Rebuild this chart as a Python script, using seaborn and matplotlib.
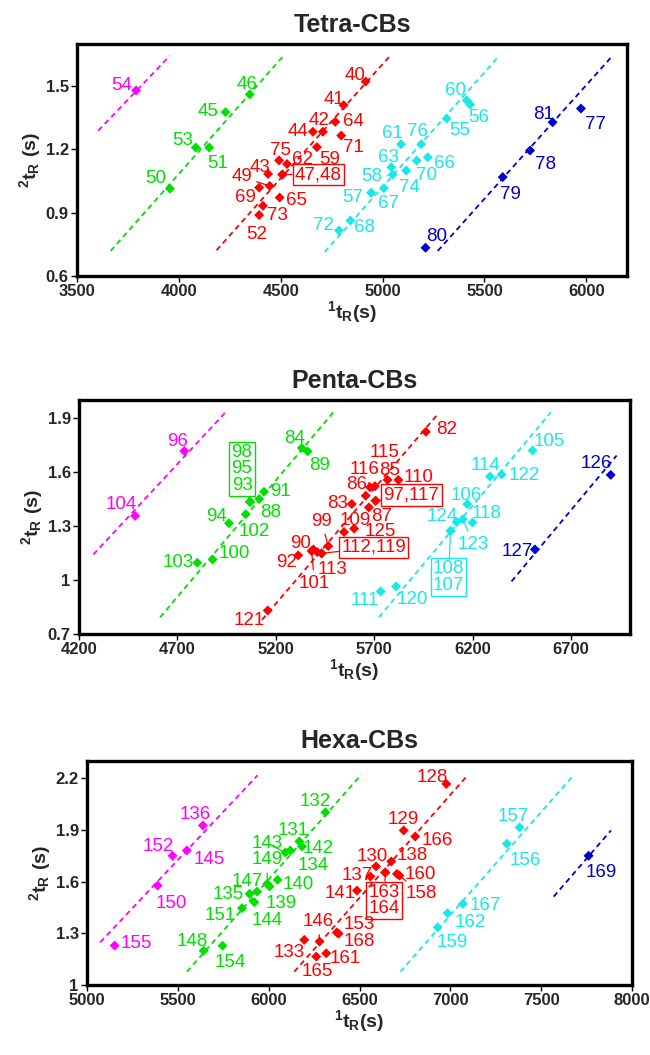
import numpy as np
import pandas as pd
import matplotlib
matplotlib.use("Agg")
import matplotlib.pyplot as plt
from matplotlib.ticker import FuncFormatter
import seaborn as sns

# ---------------- DATA ----------------
# Tetra-CBs
tetra_ids = ['54', '46', '45', '53', '51', '50',
             '40', '41', '42', '64', '44', '71', '59', '75', '62', '47', '48', '43', '49', '69', '65', '73', '52',
             '60', '56', '55', '76', '61', '66', '70', '63', '74', '58', '67', '57', '68', '72',
             '81', '77', '78', '79', '80']
tetra_x = [3790, 4348, 4229, 4083, 4149, 3956,
           4917, 4809, 4707, 4768, 4658, 4797, 4678, 4492, 4531, 4508, 4508, 4438, 4446, 4394, 4495, 4413, 4394,
           5413, 5430, 5315, 5190, 5091, 5222, 5168, 5043, 5116, 5050, 5006, 4944, 4842, 4786,
           5835, 5974, 5724, 5590, 5211]
tetra_y = [1.48, 1.461, 1.377, 1.209, 1.209, 1.014,
           1.522, 1.41, 1.284, 1.331, 1.284, 1.266, 1.211, 1.148, 1.131, 1.081, 1.081, 1.084, 1.027, 1.019, 0.972, 0.933, 0.889,
           1.433, 1.413, 1.347, 1.225, 1.225, 1.163, 1.147, 1.116, 1.100, 1.081, 1.016, 0.995, 0.863, 0.816,
           1.329, 1.394, 1.195, 1.069, 0.734]
tetra_grp = ['m'] * 1 + ['g'] * 5 + ['r'] * 17 + ['c'] * 14 + ['b'] * 5
tetra_fit_grp = ['m', 'g', 'r', 'c', 'b']
tetra_fit_x = [[3604, 3956], [3665, 4511], [4185, 5034], [4716, 5570], [5271, 6126]]
tetra_fit_y = [[1.289, 1.644], [0.719, 1.641], [0.722, 1.641], [0.714, 1.641], [0.719, 1.641]]

# Penta-CBs
penta_ids = ['96', '104',
             '84', '89', '91', '88', '98', '95', '93', '102', '94', '100', '103',
             '82', '85', '110', '116', '115', '86', '97', '117', '83', '87', '109', '125', '99', '112', '119',
             '90', '113', '101', '92', '121',
             '105', '114', '122', '106', '118', '124', '123', '108', '107', '111', '120',
             '126', '127']
penta_x = [4735, 4485,
           5332, 5362, 5140, 5116, 5069, 5069, 5069, 5047, 4962, 4879, 4801,
           5963, 5768, 5823, 5679, 5704, 5657, 5707, 5707, 5586, 5673, 5547, 5598, 5467, 5433, 5433,
           5391, 5411, 5382, 5314, 5159,
           6505, 6288, 6347, 6173, 6200, 6119, 6150, 6088, 6088, 5733, 5811,
           6902, 6517]
penta_y = [1.716, 1.355,
           1.733, 1.714, 1.489, 1.449, 1.433, 1.433, 1.433, 1.364, 1.314, 1.112, 1.094,
           1.823, 1.555, 1.555, 1.514, 1.52, 1.467, 1.439, 1.439, 1.421, 1.402, 1.265, 1.284, 1.187, 1.146, 1.146,
           1.168, 1.153, 1.159, 1.135, 0.828,
           1.719, 1.574, 1.585, 1.420, 1.318, 1.321, 1.336, 1.271, 1.271, 0.934, 0.962,
           1.583, 1.168]
penta_grp = ['m'] * 2 + ['g'] * 11 + ['r'] * 20 + ['c'] * 11 + ['b'] * 2
penta_fit_grp = ['m', 'g', 'r', 'c', 'b']
penta_fit_x = [[4273, 4955], [4612, 5492], [5130, 6026], [5724, 6597], [6398, 6932]]
penta_fit_y = [[1.140, 1.944], [0.79, 1.931], [0.776, 1.925], [0.79, 1.931], [0.99, 1.691]]

# Hexa-CBs
hexa_ids = ['136', '152', '145', '150', '155',
            '132', '131', '142', '143', '134', '149', '140', '139', '147', '135', '144', '151', '148', '154',
            '128', '129', '166', '138', '130', '137', '163', '164', '160', '158', '141', '153', '168', '146',
            '133', '165', '161',
            '157', '156', '167', '162', '159',
            '169']
hexa_x = [5638, 5471, 5550, 5389, 5152,
          6312, 6169, 6183, 6092, 6119, 5992, 6049, 6005, 5936, 5895, 5921, 5853, 5642, 5746,
          6978, 6743, 6807, 6675, 6591, 6560, 6642, 6642, 6706, 6720, 6486, 6375, 6385, 6280,
          6196, 6262, 6317,
          7381, 7311, 7069, 6985, 6930,
          7761]
hexa_y = [1.926, 1.75, 1.781, 1.577, 1.229,
          2.002, 1.833, 1.804, 1.769, 1.781, 1.587, 1.610, 1.572, 1.542, 1.529, 1.481, 1.446, 1.199, 1.228,
          2.167, 1.897, 1.862, 1.717, 1.688, 1.630, 1.653, 1.653, 1.645, 1.635, 1.548, 1.305, 1.298, 1.252,
          1.262, 1.165, 1.184,
          1.915, 1.82, 1.471, 1.417, 1.335,
          1.75]
hexa_grp = ['m'] * 5 + ['g'] * 14 + ['r'] * 17 + ['c'] * 5 + ['b'] * 1
hexa_fit_grp = ['m', 'g', 'r', 'c', 'b']
hexa_fit_x = [[5073, 5939], [5550, 6510], [6141, 7095], [6725, 7678], [7569, 7884]]
hexa_fit_y = [[1.248, 2.217], [1.077, 2.221], [1.077, 2.217], [1.077, 2.217], [1.513, 1.897]]

titles = ['Tetra-CBs', 'Penta-CBs', 'Hexa-CBs']
x_ticks = [[3500, 4000, 4500, 5000, 5500, 6000],
           [4200, 4700, 5200, 5700, 6200, 6700],
           [5000, 5500, 6000, 6500, 7000, 7500, 8000]]
y_ticks = [[0.6, 0.9, 1.2, 1.5],
           [0.7, 1.0, 1.3, 1.6, 1.9],
           [1.0, 1.3, 1.6, 1.9, 2.2]]

# ---------------- STYLE / LAYOUT ----------------
sns.set_theme(style="white")
FAM = ['Liberation Sans', 'DejaVu Sans']
plt.rcParams['font.family'] = FAM
plt.rcParams['mathtext.fontset'] = 'custom'
plt.rcParams['mathtext.rm'] = 'Liberation Sans:bold'
plt.rcParams['mathtext.it'] = 'Liberation Sans:bold'
plt.rcParams['mathtext.bf'] = 'Liberation Sans:bold'
plt.rcParams['mathtext.default'] = 'rm'

palette = {'m': '#FF00FF', 'g': '#00E000', 'r': '#FF0000', 'c': '#19E8E8', 'b': '#0000CC'}

xlims = [(3500, 6200), (4200, 7000), (5000, 8000)]
ylims = [(0.6, 1.7), (0.7, 2.0), (1.0, 2.3)]
W, H = 650, 1055
# axes boxes in pixels: left, top, right, bottom
boxes = [(77, 44, 627, 276), (79, 400, 630, 633.5), (87, 761, 632, 985)]

# label offsets in pixels (dx right, dy down)
off_tetra = {'54': (-14, -7), '46': (-3, -12), '45': (-17, -3), '53': (-13, -9), '51': (8, 14), '50': (-14, -12),
             '40': (-11, -8), '41': (-10, -8), '42': (-4, -13), '64': (18, -2), '44': (-15, -2), '71': (12, 10),
             '59': (13, 10), '75': (1, -12), '62': (15, -7), '43': (-8, -8), '49': (-28, -11), '69': (-14, 8),
             '65': (17, 1), '73': (14, 8), '52': (-2, 17),
             '60': (-11, -12), '56': (9, 11), '55': (13, 10), '76': (-4, -15), '61': (-9, -13), '63': (-3, -12),
             '66': (17, 4), '70': (10, 13), '74': (3, 15), '58': (-21, 0), '67': (5, 13), '57': (-18, 3),
             '68': (14, 5), '72': (-15, -7),
             '81': (-9, -10), '77': (15, 14), '78': (15, 12), '79': (8, 15), '80': (11, -13)}
conn_tetra = {'49', '58'}
box_tetra = [('47', '47,48', (36, 0))]

off_penta = {'96': (-7, -12), '104': (-14, -13), '84': (-7, -11), '89': (12, 12), '91': (17, -2), '88': (11, 12),
             '102': (9, 15), '94': (-12, -9), '100': (22, -8), '103': (-19, -2),
             '82': (21, -4), '115': (10, -36), '116': (-5, -20), '85': (2, -11), '110': (20, -4), '86': (-9, -13),
             '83': (-14, -2), '87': (13, 7), '109': (11, -14), '125': (26, 1), '99': (-7, -27), '90': (-13, -8),
             '113': (15, 15), '101': (3, 30), '92': (-12, 5), '121': (-18, 8),
             '105': (17, -11), '114': (-4, -13), '122': (23, -1), '106': (-1, -11), '118': (14, -11),
             '124': (-14, -7), '123': (11, 23), '111': (-16, 7), '120': (16, 11),
             '126': (-14, -13), '127': (-18, 0)}
conn_penta = {'116', '99', '101', '123'}
box_penta = [('98', '98\n95\n93', (-8, -33)), ('97', '97,117', (36, -6)),
             ('112', '112,119', (52, -6)), ('108', '108\n107', (-2, 46))]

off_hexa = {'136': (-8, -13), '152': (-14, -11), '145': (22, 7), '150': (14, 16), '155': (22, -4),
            '132': (-10, -13), '131': (-6, -13), '142': (16, 0), '143': (-18, -11), '134': (23, 13),
            '149': (0, -26), '140': (21, 3), '139': (12, 15), '147': (-10, -12), '135': (-21, -1),
            '144': (13, 16), '151': (-22, 5), '148': (-11, -11), '154': (8, 15),
            '128': (-14, -8), '129': (0, -13), '166': (22, 2), '138': (21, -8), '130': (-4, -12),
            '137': (-13, -3), '160': (23, -1), '158': (22, 16), '141': (-17, 1), '153': (22, -10),
            '168': (21, 6), '146': (-1, -22), '133': (-15, 11), '165': (1, 13), '161': (19, 3),
            '157': (-6, -13), '156': (18, 15), '167': (22, 0), '162': (23, 7), '159': (15, 13),
            '169': (13, 15)}
conn_hexa = {'143', '134', '149', '158', '146'}
box_hexa = [('163', '163\n164', (-1, 28))]

panels = [
    (tetra_ids, tetra_x, tetra_y, tetra_grp, tetra_fit_grp, tetra_fit_x, tetra_fit_y, off_tetra, conn_tetra, box_tetra),
    (penta_ids, penta_x, penta_y, penta_grp, penta_fit_grp, penta_fit_x, penta_fit_y, off_penta, conn_penta, box_penta),
    (hexa_ids, hexa_x, hexa_y, hexa_grp, hexa_fit_grp, hexa_fit_x, hexa_fit_y, off_hexa, conn_hexa, box_hexa),
]

PX = 0.72  # points per pixel at dpi 100
LBL_FS = 13.5

fig = plt.figure(figsize=(W / 100, H / 100), dpi=100)

for i, (ids, xs, ys, grp, fgrp, fx, fy, offs, conns, boxl) in enumerate(panels):
    l, t, r, b = boxes[i]
    ax = fig.add_axes([l / W, 1 - b / H, (r - l) / W, (b - t) / H])
    df = pd.DataFrame({'id': ids, 'x': xs, 'y': ys, 'grp': grp})
    fit_rows = []
    for g, xx, yy in zip(fgrp, fx, fy):
        for a, bb in zip(xx, yy):
            fit_rows.append({'grp': g, 'x': a, 'y': bb})
    fit_df = pd.DataFrame(fit_rows)
    sns.lineplot(data=fit_df, x='x', y='y', hue='grp', units='grp', estimator=None, sort=False,
                 palette=palette, legend=False, ax=ax, lw=1.3, linestyle=(0, (3.0, 2.2)))
    sns.scatterplot(data=df, x='x', y='y', hue='grp', palette=palette, marker='D', s=26,
                    linewidth=0, legend=False, ax=ax, zorder=3)

    for _, row in df.iterrows():
        pid = row['id']
        col = palette[row['grp']]
        if pid in offs:
            dx, dy = offs[pid]
            kw = {}
            if pid in conns:
                kw['arrowprops'] = dict(arrowstyle='-', color=col, lw=0.9, shrinkA=1, shrinkB=2)
            ax.annotate(pid, xy=(row['x'], row['y']), xytext=(dx * PX, -dy * PX),
                        textcoords='offset points', ha='center', va='center_baseline',
                        color=col, fontsize=LBL_FS, **kw)
    for pid, txt, (dx, dy) in boxl:
        row = df[df['id'] == pid].iloc[0]
        col = palette[row['grp']]
        ax.annotate(txt, xy=(row['x'], row['y']), xytext=(dx * PX, -dy * PX),
                    textcoords='offset points', ha='center', va='center', color=col,
                    fontsize=LBL_FS, linespacing=0.95,
                    bbox=dict(boxstyle='square,pad=0.12', fc='none', ec=col, lw=1.0),
                    arrowprops=dict(arrowstyle='-', color=col, lw=0.9, shrinkA=0, shrinkB=2))

    ax.set_xlim(*xlims[i])
    ax.set_ylim(*ylims[i])
    ax.set_xticks(x_ticks[i])
    ax.set_yticks(y_ticks[i])
    ax.yaxis.set_major_formatter(FuncFormatter(lambda v, p: f'{v:g}'))
    ax.tick_params(axis='both', which='major', direction='out', length=4, width=1.0,
                   color='black', labelsize=12, bottom=True, left=True, pad=2)
    for lab in ax.get_xticklabels() + ax.get_yticklabels():
        lab.set_fontweight('bold')
    for sp in ax.spines.values():
        sp.set_linewidth(2.4)
        sp.set_color('black')
    ax.set_title(titles[i], fontsize=18, fontweight='bold', pad=9)
    ax.set_xlabel(r'$^{1}\mathrm{t}_{\mathrm{R}}\mathrm{(s)}$', fontsize=14, labelpad=0)
    ax.set_ylabel(r'$^{2}\mathrm{t}_{\mathrm{R}}\mathrm{\ (s)}$', fontsize=14, labelpad=2)
    ax.grid(False)

fig.savefig('out.png', dpi=100)
